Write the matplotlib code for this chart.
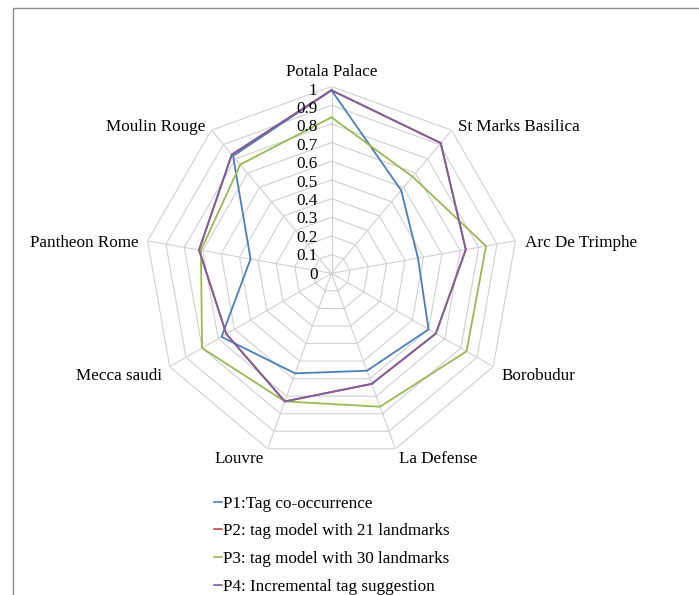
import numpy as np
import matplotlib
matplotlib.use('Agg')
import matplotlib.pyplot as plt
from matplotlib.lines import Line2D
from matplotlib.patches import Rectangle

plt.rcParams['font.family'] = ['Liberation Serif', 'DejaVu Serif']

# Категории (по часовой стрелке, начиная сверху)
categories = ['Potala Palace', 'St Marks Basilica', 'Arc De Trimphe', 'Borobudur',
              'La Defense', 'Louvre', 'Mecca saudi', 'Pantheon Rome', 'Moulin Rouge']

series_names = ['P1:Tag co-occurrence',
                'P2: tag model with 21 landmarks',
                'P3: tag model with 30 landmarks',
                'P4: Incremental tag suggestion']

p1 = [0.98, 0.58, 0.47, 0.60, 0.555, 0.57, 0.68, 0.44, 0.82]
p2 = [0.98, 0.91, 0.73, 0.645, 0.63, 0.73, 0.65, 0.72, 0.83]
p3 = [0.835, 0.675, 0.84, 0.835, 0.76, 0.73, 0.80, 0.71, 0.76]
p4 = [0.98, 0.91, 0.73, 0.645, 0.63, 0.73, 0.65, 0.72, 0.83]

colors = ['#4a7ebb', '#be4b48', '#98b954', '#7d60a0']
levels = np.round(np.arange(0, 1.01, 0.1), 1)
tick_labels = ['0', '0.1', '0.2', '0.3', '0.4', '0.5', '0.6', '0.7', '0.8', '0.9', '1']

W, H = 699, 595
FS = 12.3
fig = plt.figure(figsize=(W / 100, H / 100), dpi=100)

# рамка области диаграммы
fig.patches.append(Rectangle((12.5 / W, -0.1), 1.2, (H - 8.5) / H + 0.1,
                             transform=fig.transFigure, fill=False,
                             edgecolor='#8c8c8c', linewidth=1.0))

cx, cy, R = 331.5, 273.3, 186.8
ax = fig.add_axes([(cx - R) / W, (H - cy - R) / H, 2 * R / W, 2 * R / H],
                  projection='polar')
ax.set_theta_zero_location('N')
ax.set_theta_direction(-1)
ax.set_ylim(0, 1)
ax.grid(False)
ax.set_xticks([])
ax.set_yticks([])
ax.spines['polar'].set_visible(False)
ax.patch.set_alpha(0)

n = len(categories)
theta = np.arange(n) * 2 * np.pi / n
theta_closed = np.append(theta, theta[0])

# сетка в виде многоугольников
for lv in levels[1:]:
    ax.plot(theta_closed, [lv] * (n + 1), color='#d0d0d0', lw=0.8, zorder=1)
for t in theta:
    ax.plot([t, t], [0, 1], color='#d0d0d0', lw=0.8, zorder=1)

# ряды данных
for vals, col in zip([p1, p2, p3, p4], colors):
    v = np.append(vals, vals[0])
    ax.plot(theta_closed, v, color=col, lw=1.3, zorder=3)

# подписи шкалы
for lv, lab in zip(levels, tick_labels):
    ax.annotate(lab, xy=(0, lv), xytext=(-10, -1 - 2 * lv), textcoords='offset points',
                ha='right', va='center', fontsize=FS, color='black', zorder=4,
                annotation_clip=False)

# подписи категорий
for t, name in zip(theta, categories):
    s = np.sin(t)
    c = np.cos(t)
    if abs(s) < 0.01:
        ha = 'center'
    elif s > 0:
        ha = 'left'
    else:
        ha = 'right'
    if c > 0.9:
        va, dy = 'bottom', -2
    elif c < -0.9:
        va, dy = 'top', 4.5
    else:
        va, dy = 'center', -3
    ax.annotate(name, xy=(t, 1.05), xytext=(0, dy), textcoords='offset points',
                ha=ha, va=va, fontsize=FS, annotation_clip=False)

handles = [Line2D([], [], color=c, lw=1.2) for c in colors]
fig.legend(handles, series_names, loc='upper left',
           bbox_to_anchor=(207 / W, 1 - 489 / H), frameon=False,
           fontsize=FS, handlelength=0.45, handletextpad=0.1,
           labelspacing=0.68, borderaxespad=0)

fig.savefig('out.png', dpi=100)
